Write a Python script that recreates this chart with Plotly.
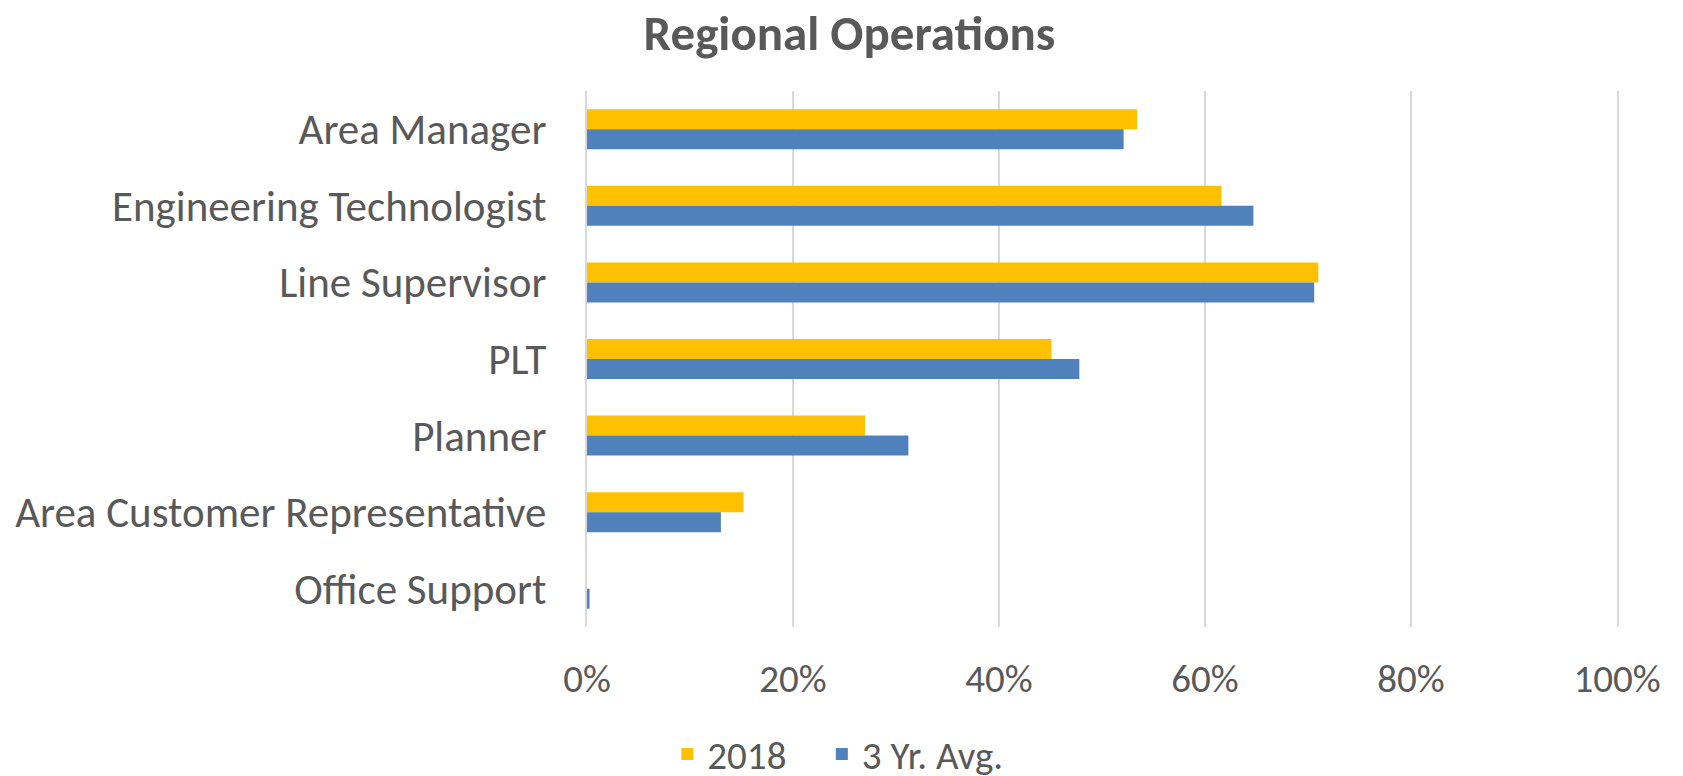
import plotly.graph_objects as go

categories = ["Area Manager", "Engineering Technologist", "Line Supervisor", "PLT",
              "Planner", "Area Customer Representative", "Office Support"]
values_2018 = [0.534, 0.616, 0.710, 0.451, 0.270, 0.152, 0.0]
values_3yr = [0.521, 0.647, 0.706, 0.478, 0.312, 0.130, 0.0025]
x_ticks = [0, 0.2, 0.4, 0.6, 0.8, 1.0]
x_tick_labels = ["0%", "20%", "40%", "60%", "80%", "100%"]

FONT = "Carlito, Lato, sans-serif"
GRAY = "#595959"
GRID = "#D9D9D9"

fig = go.Figure()
fig.add_trace(go.Bar(y=categories, x=values_2018, name="2018", orientation="h",
                     marker=dict(color="#FFC000", line=dict(width=0)),
                     legend="legend", showlegend=True))
fig.add_trace(go.Bar(y=categories, x=values_3yr, name="3 Yr. Avg.", orientation="h",
                     marker=dict(color="#4F81BD", line=dict(width=0)),
                     legend="legend2", showlegend=True))

legend_style = dict(orientation="h", xanchor="left", y=-0.237, yanchor="middle",
                    font=dict(family=FONT, size=39, color=GRAY), bgcolor="rgba(0,0,0,0)",
                    visible=True)

fig.update_layout(
    width=1683, height=776,
    paper_bgcolor="white", plot_bgcolor="white",
    margin=dict(l=579, r=74, t=83, b=157, autoexpand=False),
    barmode="group", bargap=0.478, bargroupgap=0,
    showlegend=True,
    font=dict(family=FONT, color=GRAY, size=42),
    title=dict(text="<b>Regional Operations</b>", x=0.5, xref="container", xanchor="center",
               y=1 - 25 / 776, yref="container", yanchor="middle",
               font=dict(family=FONT, size=49, color=GRAY)),
    xaxis=dict(range=[0, 1], tickvals=x_ticks, ticktext=x_tick_labels,
               showgrid=True, gridcolor=GRID, gridwidth=2, zeroline=False,
               showline=False, ticks="", ticklabelstandoff=25, automargin=False,
               tickangle=0,
               tickfont=dict(family=FONT, size=39, color=GRAY)),
    yaxis=dict(autorange="reversed", showgrid=False, zeroline=False,
               showline=True, linecolor=GRID, linewidth=2, mirror=True,
               ticks="", ticklabelstandoff=30, automargin=False,
               tickfont=dict(family=FONT, size=43, color=GRAY)),
    legend=dict(x=0.078, **legend_style),
    legend2=dict(x=0.228, **legend_style),
)

fig.write_html("out.html")
